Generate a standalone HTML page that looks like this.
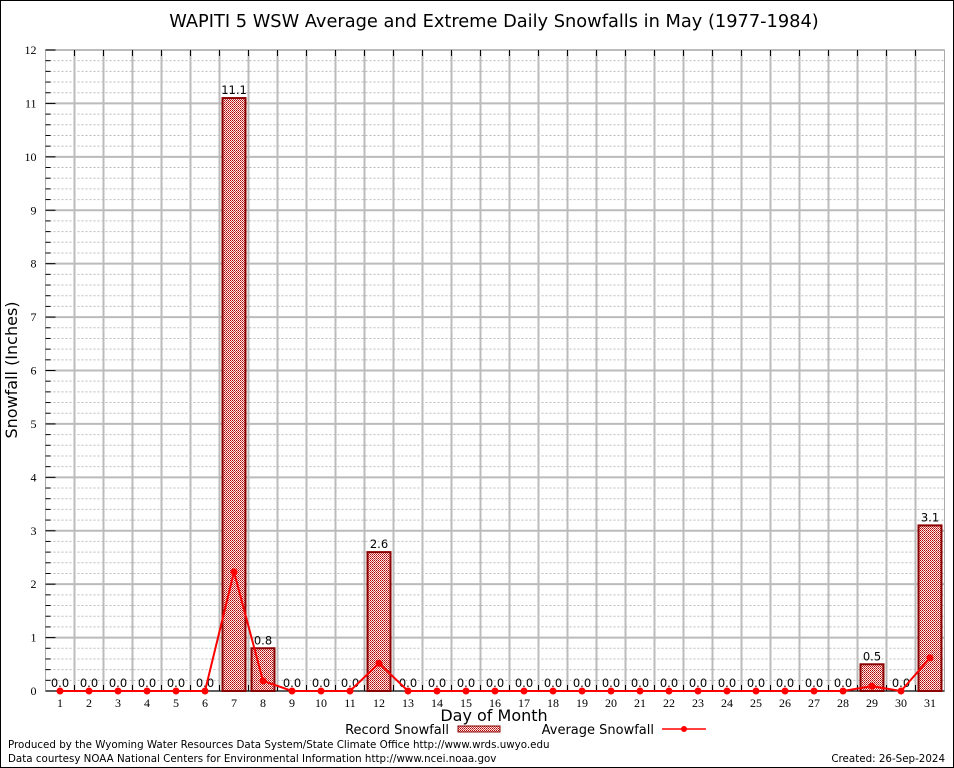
<!DOCTYPE html>
<html><head><meta charset="utf-8"><style>
body{margin:0;background:#fff}
svg{display:block;font-family:"DejaVu Sans","Liberation Sans",sans-serif}
</style></head><body>
<svg width="954" height="768" viewBox="0 0 954 768">
<defs>
<pattern id="hatch" width="2" height="2" patternUnits="userSpaceOnUse">
<rect width="2" height="2" fill="#fbeaea"/><rect width="1" height="1" fill="#b00000"/><rect x="1" y="1" width="1" height="1" fill="#d04040"/>
</pattern>
</defs>
<rect x="0.5" y="0.5" width="953" height="767" fill="#fff" stroke="#000"/>
<text x="494" y="27" font-size="17.8" text-anchor="middle">WAPITI 5 WSW Average and Extreme Daily Snowfalls in May (1977-1984)</text>
<g id="grid"></g>
<g id="bars"></g>
<g id="line"></g>
<text x="17" y="370" font-size="16" text-anchor="middle" transform="rotate(-90 17 370)">Snowfall (Inches)</text>
<text x="494" y="721" font-size="16" text-anchor="middle">Day of Month</text>
<g>
<text x="449" y="734" font-size="13" text-anchor="end">Record Snowfall</text>
<rect x="458" y="726" width="42" height="6" fill="url(#hatch)" stroke="#8b0000"/>
</g>
<g>
<text x="654" y="734" font-size="13" text-anchor="end">Average Snowfall</text>
<line x1="662" y1="729" x2="706" y2="729" stroke="#f00" stroke-width="1.5"/>
<circle cx="684" cy="729" r="3" fill="#f00"/>
</g>
<text x="8" y="748" font-size="10.3">Produced by the Wyoming Water Resources Data System/State Climate Office http://www.wrds.uwyo.edu</text>
<text x="8" y="762" font-size="10.3">Data courtesy NOAA National Centers for Environmental Information http://www.ncei.noaa.gov</text>
<text x="945" y="762" font-size="10.3" text-anchor="end">Created: 26-Sep-2024</text>
</svg>
<script>
const days=[1,2,3,4,5,6,7,8,9,10,11,12,13,14,15,16,17,18,19,20,21,22,23,24,25,26,27,28,29,30,31];
const recordSnow=[0,0,0,0,0,0,11.1,0.8,0,0,0,2.6,0,0,0,0,0,0,0,0,0,0,0,0,0,0,0,0,0.5,0,3.1];
const avgSnow=[0,0,0,0,0,0,2.23,0.19,0,0,0,0.52,0,0,0,0,0,0,0,0,0,0,0,0,0,0,0,0,0.09,0,0.62];
const yTicks=[0,1,2,3,4,5,6,7,8,9,10,11,12];
const NS="http://www.w3.org/2000/svg";
const L=45.5,R=944.5,T=50,B=691,yMax=12;
const step=(R-L)/days.length;
const xs=d=>L+(d-0.5)*step;
const ys=v=>B-(v/yMax)*(B-T);
function mk(tag,attrs,parent){const e=document.createElementNS(NS,tag);for(const k in attrs)e.setAttribute(k,attrs[k]);parent.appendChild(e);return e;}
const grid=document.getElementById('grid');
mk('rect',{x:L,y:T,width:R-L,height:B-T,fill:'#fff',stroke:'#aaa'},grid);
for(let v=0;v<yMax;v+=0.2){
  if(Math.abs(v-Math.round(v))<1e-6)continue;
  const l=mk('line',{x1:L,x2:R,y1:ys(v),y2:ys(v),stroke:'#bbb','stroke-dasharray':'2,2','stroke-width':1},grid);
  
  
  mk('line',{x1:L,x2:L+5,y1:ys(v),y2:ys(v),stroke:'#000'},grid);
}
yTicks.forEach(t=>{
  const l=mk('line',{x1:L,x2:R,y1:ys(t),y2:ys(t),stroke:'#bbb','stroke-width':2},grid);
  
  
  mk('line',{x1:L,x2:L+10,y1:ys(t),y2:ys(t),stroke:'#000'},grid);
  const tx=mk('text',{x:L-9,y:ys(t)+4,'font-size':12,'text-anchor':'end','font-family':'Liberation Serif,serif'},grid);
  tx.textContent=t;
  
  
});
for(let i=1;i<days.length;i++){
  const x=L+i*step;
  const l=mk('line',{x1:x,x2:x,y1:T,y2:B,stroke:'#bbb','stroke-width':2},grid);
  
  
  mk('line',{x1:x,x2:x,y1:T,y2:T+6,stroke:'#000'},grid);
  mk('line',{x1:x,x2:x,y1:B,y2:B-6,stroke:'#000'},grid);
}
mk('line',{x1:L,x2:R,y1:B,y2:B,stroke:'#000'},grid);
days.forEach(d=>{
  const tx=mk('text',{x:xs(d),y:B+16,'font-size':12,'text-anchor':'middle','font-family':'Liberation Serif,serif'},grid);
  tx.textContent=d;
  
  
});
const bars=document.getElementById('bars');
days.forEach((d,i)=>{
  const v=recordSnow[i];
  if(v>0){
    const r=mk('rect',{x:xs(d)-11.5,y:ys(v),width:23,height:B-ys(v),fill:'url(#hatch)',stroke:'#8b0000','stroke-width':2},bars);
    
    
  }
  const tx=mk('text',{x:xs(d),y:ys(v)-4,'font-size':11.5,'text-anchor':'middle'},bars);
  tx.textContent=v.toFixed(1);
  
  
});
const line=document.getElementById('line');
const pts=days.map((d,i)=>xs(d)+','+ys(avgSnow[i])).join(' ');
const pl=mk('polyline',{points:pts,fill:'none',stroke:'#f00','stroke-width':2},line);


days.forEach((d,i)=>{
  const c=mk('circle',{cx:xs(d),cy:ys(avgSnow[i]),r:3.5,fill:'#f00'},line);
  
  
});
</script>
</body></html>
